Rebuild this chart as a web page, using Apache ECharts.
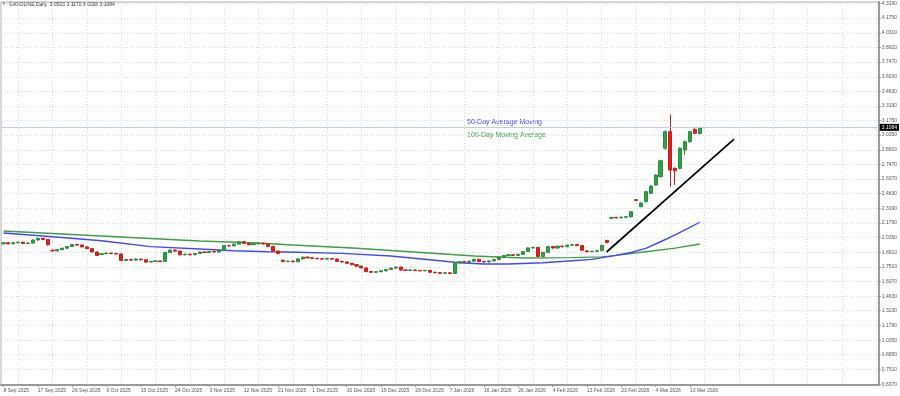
<!DOCTYPE html>
<html><head><meta charset="utf-8">
<script src="https://cdn.jsdelivr.net/npm/echarts@6/dist/echarts.min.js"></script>
<style>html,body{margin:0;padding:0;background:#fff}#c{width:900px;height:396px}</style>
</head><body><div id="c"></div>
<script>
// ---- data ----
const symbolTitle = 'GASOLINE,Daily';
const dateTicks = ['8 Sep 2025','17 Sep 2025','26 Sep 2025','6 Oct 2025','15 Oct 2025','24 Oct 2025','3 Nov 2025','12 Nov 2025','21 Nov 2025','1 Dec 2025','10 Dec 2025','19 Dec 2025','29 Dec 2025','7 Jan 2026','16 Jan 2026','26 Jan 2026','4 Feb 2026','13 Feb 2026','23 Feb 2026','4 Mar 2026','13 Mar 2026'];
const barsPerDateTick = 7;
const slotCount = 179; // bars + empty chart shift on the right
const priceTicks = [4.3190,4.1750,4.0310,3.8910,3.7470,3.6030,3.4630,3.3190,3.1750,3.0350,2.8910,2.7470,2.6070,2.4630,2.3190,2.1790,2.0350,1.8910,1.7510,1.6070,1.4630,1.3230,1.1790,1.0350,0.8950,0.7510,0.6070];
// [open, close, low, high]
const ohlc = [
[1.975,1.985,1.968,1.992],[1.985,1.975,1.970,1.990],[1.975,1.985,1.970,1.992],[1.985,1.990,1.980,1.998],
[1.990,1.978,1.972,1.995],[1.978,1.982,1.972,1.990],[1.982,2.012,1.978,2.018],[2.012,2.028,2.005,2.036],
[2.028,2.018,2.010,2.034],[2.018,1.965,1.960,2.022],[1.912,1.906,1.900,1.916],[1.906,1.918,1.900,1.922],
[1.918,1.932,1.912,1.938],[1.932,1.948,1.928,1.952],[1.948,1.968,1.944,1.974],[1.968,1.963,1.956,1.975],
[1.963,1.945,1.940,1.968],[1.945,1.928,1.922,1.950],[1.928,1.895,1.890,1.932],[1.895,1.862,1.855,1.900],
[1.870,1.878,1.865,1.884],[1.878,1.884,1.874,1.890],[1.884,1.880,1.874,1.888],[1.880,1.876,1.870,1.885],
[1.876,1.812,1.806,1.880],[1.812,1.822,1.806,1.828],[1.822,1.816,1.810,1.826],[1.816,1.826,1.810,1.832],
[1.826,1.820,1.814,1.830],[1.820,1.797,1.790,1.824],[1.797,1.803,1.792,1.808],[1.803,1.808,1.798,1.812],
[1.808,1.802,1.796,1.812],[1.802,1.890,1.798,1.896],[1.890,1.914,1.884,1.920],[1.914,1.904,1.898,1.920],
[1.904,1.868,1.862,1.908],[1.868,1.874,1.862,1.878],[1.874,1.868,1.862,1.878],[1.868,1.880,1.864,1.884],
[1.880,1.895,1.876,1.900],[1.895,1.890,1.884,1.900],[1.890,1.900,1.886,1.905],[1.900,1.895,1.890,1.905],
[1.895,1.910,1.890,1.915],[1.910,1.958,1.906,1.963],[1.958,1.955,1.948,1.965],[1.955,1.972,1.950,1.978],
[1.972,1.995,1.968,2.002],[1.995,1.980,1.975,2.000],[1.980,1.966,1.960,1.986],[1.966,1.975,1.962,1.980],
[1.975,1.980,1.970,1.985],[1.980,1.974,1.968,1.985],[1.974,1.950,1.944,1.978],[1.950,1.905,1.900,1.955],
[1.905,1.880,1.874,1.910],[1.815,1.802,1.796,1.820],[1.802,1.806,1.797,1.810],[1.806,1.800,1.795,1.810],
[1.800,1.828,1.796,1.832],[1.828,1.845,1.824,1.850],[1.845,1.838,1.832,1.850],[1.838,1.834,1.828,1.842],
[1.834,1.830,1.824,1.838],[1.830,1.826,1.820,1.835],[1.826,1.832,1.820,1.836],[1.832,1.826,1.820,1.836],
[1.826,1.804,1.798,1.830],[1.804,1.798,1.792,1.808],[1.798,1.785,1.780,1.802],[1.785,1.772,1.766,1.790],
[1.772,1.758,1.752,1.776],[1.758,1.740,1.734,1.762],[1.740,1.704,1.698,1.744],[1.704,1.698,1.692,1.708],
[1.698,1.703,1.692,1.708],[1.703,1.712,1.698,1.716],[1.712,1.724,1.708,1.728],[1.724,1.738,1.720,1.742],
[1.738,1.748,1.734,1.754],[1.748,1.720,1.714,1.752],[1.720,1.716,1.710,1.724],[1.716,1.720,1.710,1.724],
[1.720,1.716,1.710,1.724],[1.716,1.712,1.706,1.720],[1.712,1.716,1.706,1.720],[1.716,1.698,1.692,1.720],
[1.698,1.694,1.688,1.702],[1.694,1.688,1.682,1.698],[1.688,1.692,1.684,1.696],[1.692,1.686,1.680,1.696],
[1.686,1.790,1.682,1.796],[1.790,1.800,1.784,1.806],[1.800,1.796,1.790,1.804],[1.796,1.806,1.790,1.810],
[1.806,1.824,1.800,1.830],[1.824,1.802,1.796,1.828],[1.802,1.798,1.792,1.806],[1.798,1.808,1.792,1.812],
[1.808,1.822,1.804,1.826],[1.822,1.845,1.818,1.850],[1.845,1.862,1.840,1.866],[1.862,1.868,1.856,1.872],
[1.868,1.862,1.856,1.872],[1.862,1.872,1.856,1.878],[1.872,1.900,1.868,1.906],[1.900,1.935,1.896,1.942],
[1.935,1.940,1.928,1.946],[1.940,1.852,1.846,1.944],[1.852,1.892,1.846,1.896],[1.892,1.948,1.888,1.952],
[1.948,1.934,1.928,1.954],[1.934,1.952,1.930,1.958],[1.952,1.946,1.940,1.956],[1.946,1.962,1.942,1.968],
[1.962,1.968,1.956,1.974],[1.968,1.958,1.952,1.972],[1.958,1.912,1.906,1.962],[1.906,1.898,1.892,1.910],
[1.898,1.902,1.894,1.906],[1.902,1.908,1.898,1.912],[1.908,1.960,1.904,1.966],[2.008,1.988,1.982,2.014],
[2.225,2.232,2.218,2.238],[2.232,2.228,2.222,2.238],[2.228,2.234,2.222,2.240],[2.234,2.238,2.228,2.244],
[2.238,2.288,2.232,2.294],[2.405,2.398,2.390,2.410],[2.338,2.372,2.330,2.378],[2.386,2.483,2.380,2.490],
[2.467,2.538,2.460,2.545],[2.548,2.645,2.540,2.655],[2.629,2.785,2.620,2.795],[2.906,3.068,2.890,3.080],
[3.068,2.694,2.531,3.231],[2.710,2.687,2.550,2.720],[2.710,2.906,2.700,2.915],[2.889,2.970,2.841,2.980],
[2.970,3.068,2.960,3.075],[3.091,3.052,3.045,3.100],[3.0503,3.1084,3.0388,3.1170]
];
// moving averages read at sampled bars: [bar, value]
const ma50 = [[0,2.080],[10,2.044],[20,2.005],[30,1.947],[40,1.924],[47,1.907],[54,1.898],[60,1.892],[69,1.882],[79,1.856],[89,1.810],[93,1.790],[98,1.778],[103,1.778],[110,1.790],[116,1.810],[120,1.823],[124,1.855],[128,1.890],[131,1.931],[134,1.995],[137,2.061],[140,2.135],[142,2.185]];
const ma100 = [[0,2.100],[10,2.075],[20,2.051],[30,2.026],[40,2.002],[52,1.983],[59,1.963],[72,1.931],[86,1.888],[96,1.856],[106,1.836],[116,1.840],[122,1.848],[125,1.862],[131,1.898],[137,1.933],[142,1.973]];
const trendLine = [[123,1.895],[149,2.995]];
const labelMA50 = '50-Day Average Moving';
const labelMA100 = '100-Day Moving Average';

// ---- chart ----
const categories = Array.from({length: slotCount}, (_, i) => String(i));
const last = ohlc[ohlc.length - 1];
const isDateTick = (i) => i % barsPerDateTick === 0 && i / barsPerDateTick < dateTicks.length;
const gridBars = [];
for (let b = 3; b < slotCount; b += barsPerDateTick) gridBars.push(b);
const FONT = '"Liberation Sans", Arial, sans-serif';
const GRID_COLOR = '#d3d9e4';

const chart = echarts.init(document.getElementById('c'), null, {renderer: 'canvas'});
chart.setOption({
  animation: false,
  backgroundColor: '#ffffff',
  grid: {left: 1, right: 21, top: 2, bottom: 11, show: true, borderColor: '#b0b0b0', borderWidth: 1},
  xAxis: [{
    type: 'category', data: categories, boundaryGap: true,
    axisLine: {show: true, onZero: false, lineStyle: {color: '#9a9a9a', width: 2}},
    axisTick: {show: true, alignWithLabel: true, interval: isDateTick, length: 2, lineStyle: {color: '#9a9a9a'}},
    axisLabel: {interval: isDateTick, formatter: (v, i) => dateTicks[i / barsPerDateTick], fontSize: 5, color: '#555', align: 'left', margin: 3, fontFamily: FONT},
    splitLine: {show: false}
  }, {
    type: 'value', min: -0.5, max: slotCount - 0.5, position: 'top',
    axisLine: {show: false, onZero: false}, axisLabel: {show: false},
    axisTick: {show: false, customValues: gridBars},
    splitLine: {show: true, lineStyle: {color: GRID_COLOR, type: [1, 2], width: 1}}
  }],
  yAxis: {
    type: 'value', position: 'right', min: 0.5988, max: 4.3317, scale: true,
    axisLine: {show: true, onZero: false, lineStyle: {color: '#9a9a9a', width: 2}},
    axisTick: {show: true, customValues: priceTicks, length: 2, lineStyle: {color: '#888'}},
    axisLabel: {customValues: priceTicks, formatter: (v) => v.toFixed(4), fontSize: 5, color: '#555', margin: 3, fontFamily: FONT},
    splitLine: {show: true, lineStyle: {color: GRID_COLOR, type: [1, 2], width: 1}}
  },
  series: [
    {
      type: 'line', data: ma100, showSymbol: false, symbol: 'none', z: 2,
      lineStyle: {color: '#3f9f45', width: 1.4}
    },
    {
      type: 'line', data: ma50, showSymbol: false, symbol: 'none', z: 2,
      lineStyle: {color: '#4848f0', width: 1.4}
    },
    {
      type: 'candlestick', data: ohlc, barWidth: 3.6, z: 3,
      itemStyle: {color: '#33a047', color0: '#e3211b', borderColor: '#2c8a3d', borderColor0: '#c41d18', borderColorDoji: '#666', borderWidth: 1},
      markLine: {
        symbol: 'none', silent: true, animation: false,
        lineStyle: {color: '#c3cde0', type: 'solid', width: 1},
        label: {show: true, position: 'end', formatter: last[1].toFixed(4), backgroundColor: '#000', color: '#fff', fontSize: 5, padding: [1, 2], distance: 1, fontFamily: FONT},
        data: [{yAxis: last[1]}]
      }
    },
    {
      type: 'line', data: trendLine, showSymbol: false, symbol: 'none', z: 4,
      lineStyle: {color: '#000', width: 1.7}
    }
  ],
  graphic: [
    {type: 'text', left: 2, top: 2, style: {text: '▼', fill: '#333', font: '4px ' + FONT}},
    {type: 'text', left: 9, top: 2, style: {text: symbolTitle + '  ' + [last[0], last[3], last[2], last[1]].map(v => v.toFixed(4)).join(' '), fill: '#333', font: '5px ' + FONT}},
    {type: 'text', left: 467, top: 119, style: {text: labelMA50, fill: '#4848f0', font: '7px ' + FONT}},
    {type: 'text', left: 467, top: 132, style: {text: labelMA100, fill: '#3f9f45', font: '7px ' + FONT}}
  ]
});
</script>
</body></html>
